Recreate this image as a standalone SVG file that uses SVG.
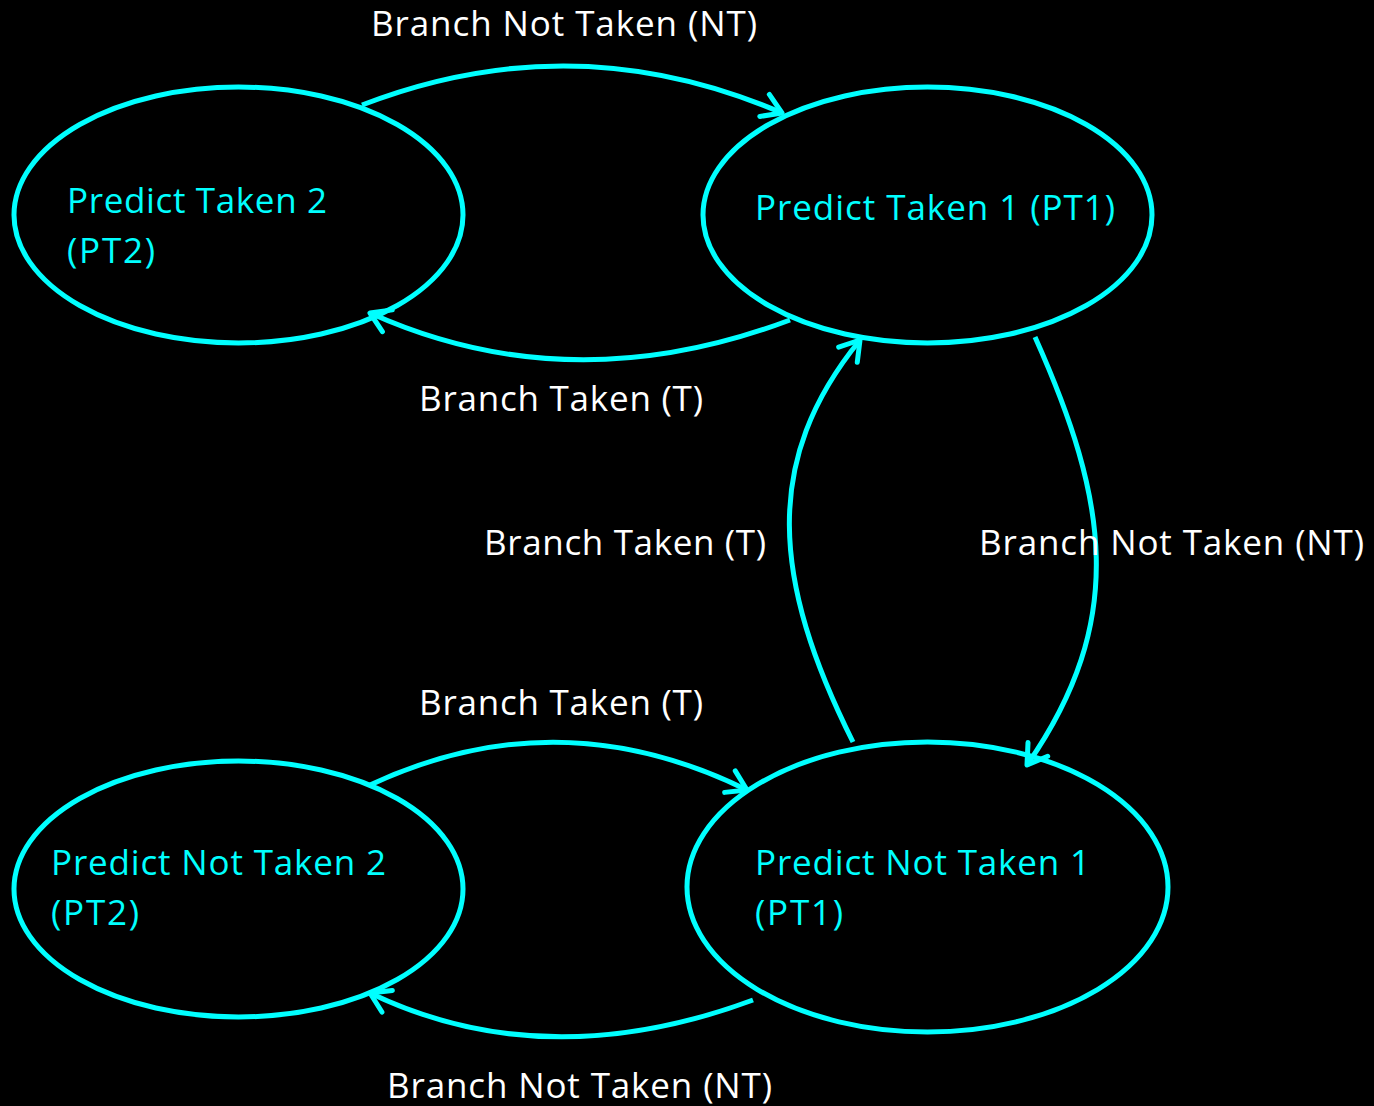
<svg xmlns="http://www.w3.org/2000/svg" width="1374" height="1106" viewBox="0 0 1374 1106">
<style>
.node{fill:none;stroke:#00FFFF;stroke-width:5}
.edge{fill:none;stroke:#00FFFF;stroke-width:5}
.lbl{font-family:"Open Sans","Noto Sans",sans-serif;font-size:35px;fill:#FFFFFF}
.ntx{font-family:"Open Sans","Noto Sans",sans-serif;font-size:35px;fill:#00FFFF}
</style>
<defs>
<marker id="arr" markerUnits="userSpaceOnUse" markerWidth="40" markerHeight="40" viewBox="-30 -20 40 40" refX="0" refY="0" orient="auto" overflow="visible">
<path d="M-19,-12 L0,0 L-19,12" fill="none" stroke="#00FFFF" stroke-width="5" stroke-linecap="round" stroke-linejoin="round"/>
</marker>
</defs>
<rect x="0" y="0" width="1374" height="1106" fill="#000000"/>
<g id="connectors">
<path class="edge" d="M362,105 Q574,23 782,113" marker-end="url(#arr)"/>
<path class="edge" d="M790,320 Q570,403 370,313" marker-end="url(#arr)"/>
<path class="edge" d="M853,742 C772,580 762,460 860,340" marker-end="url(#arr)"/>
<path class="edge" d="M1035,337 C1108,500 1128,620 1027,765" marker-end="url(#arr)"/>
<path class="edge" d="M370,785 Q558,697 747,790" marker-end="url(#arr)"/>
<path class="edge" d="M753,1000 Q545,1077 370,993" marker-end="url(#arr)"/>
</g>
<g id="labels">
<text class="lbl" x="371" y="36" textLength="386">Branch Not Taken (NT)</text>
<text class="lbl" x="419" y="411" textLength="284">Branch Taken (T)</text>
<text class="lbl" x="484" y="555" textLength="282">Branch Taken (T)</text>
<text class="lbl" x="979" y="555" textLength="385">Branch Not Taken (NT)</text>
<text class="lbl" x="419" y="715" textLength="284">Branch Taken (T)</text>
<text class="lbl" x="387" y="1098" textLength="385">Branch Not Taken (NT)</text>
</g>
<g id="node-pt2">
<ellipse class="node" cx="238.5" cy="215" rx="224.5" ry="128"/>
<text class="ntx" x="67" y="213" textLength="260">Predict Taken 2</text>
<text class="ntx" x="67" y="263" textLength="88">(PT2)</text>
</g>
<g id="node-pt1">
<ellipse class="node" cx="927.5" cy="215" rx="224.5" ry="128"/>
<text class="ntx" x="755" y="220" textLength="360">Predict Taken 1 (PT1)</text>
</g>
<g id="node-pnt2">
<ellipse class="node" cx="238.5" cy="889" rx="224.5" ry="128"/>
<text class="ntx" x="51" y="875" textLength="335">Predict Not Taken 2</text>
<text class="ntx" x="51" y="925" textLength="88">(PT2)</text>
</g>
<g id="node-pnt1">
<ellipse class="node" cx="927.5" cy="887" rx="240.5" ry="145"/>
<text class="ntx" x="755" y="875" textLength="335">Predict Not Taken 1</text>
<text class="ntx" x="755" y="925" textLength="88">(PT1)</text>
</g>
</svg>
